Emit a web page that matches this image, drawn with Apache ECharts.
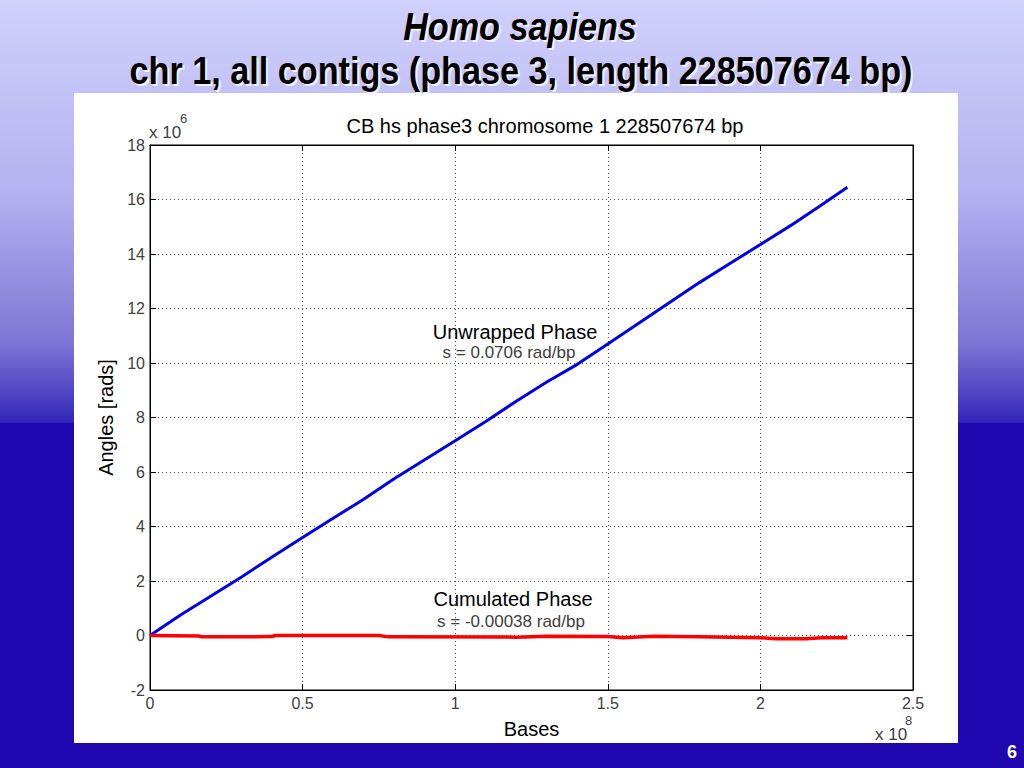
<!DOCTYPE html>
<html>
<head>
<meta charset="utf-8">
<script src="https://cdn.jsdelivr.net/npm/echarts@6/dist/echarts.min.js"></script>
<style>
html,body{margin:0;padding:0;width:1024px;height:768px;overflow:hidden;}
#chart{width:1024px;height:768px;}
</style>
</head>
<body>
<div id="chart"></div>
<script>
// Bases in units of 1e8, angles in units of 1e6 rad
var basesUnwrapped = [0, 0.1, 0.2, 0.3, 0.4, 0.5, 0.6, 0.7, 0.8, 0.9, 1.0, 1.1, 1.2, 1.3, 1.4, 1.5, 1.6, 1.7, 1.8, 1.9, 2.0, 2.1, 2.2, 2.285];
var unwrappedPhase = [0, 0.75, 1.45, 2.15, 2.88, 3.6, 4.3, 5.0, 5.75, 6.45, 7.15, 7.85, 8.6, 9.3, 9.95, 10.7, 11.45, 12.2, 12.95, 13.65, 14.35, 15.05, 15.8, 16.45];
var basesCumulated = [0, 0.16, 0.17, 0.4, 0.41, 0.75, 0.78, 1.2, 1.3, 1.5, 1.55, 1.65, 1.8, 2.0, 2.05, 2.15, 2.2, 2.285];
var cumulatedPhase = [0, -0.02, -0.05, -0.04, 0, 0, -0.05, -0.06, -0.03, -0.04, -0.08, -0.03, -0.05, -0.08, -0.12, -0.12, -0.08, -0.08];
var xTicks = [0, 0.5, 1, 1.5, 2, 2.5];
var yTicks = [-2, 0, 2, 4, 6, 8, 10, 12, 14, 16, 18];

function pairs(xs, ys) { return xs.map(function (x, i) { return [x, ys[i]]; }); }

var chart = echarts.init(document.getElementById('chart'), null, { renderer: 'svg' });
var FONT = 'Liberation Sans, Arial, sans-serif';
var tickLabel = { color: '#404040', fontSize: 16, fontFamily: FONT };
var grid = { left: 150, right: 111, top: 145, bottom: 78, show: true, borderColor: '#000', borderWidth: 1, backgroundColor: 'transparent' };

var title1 = 'Homo sapiens';
var title2 = 'chr 1, all contigs (phase 3, length 228507674 bp)';
function titleText(text, x, y, font, fill, z) {
  return { type: 'text', z: z, x: x, y: y, scaleX: 0.877, style: { text: text, font: font, fill: fill, textAlign: 'center', textVerticalAlign: 'middle' } };
}

var option = {
  backgroundColor: {
    type: 'linear', x: 0, y: 0, x2: 0, y2: 1,
    colorStops: [
      { offset: 0, color: '#d0d0fb' },
      { offset: 0.25, color: '#b4b2f0' },
      { offset: 0.45, color: '#7c74d4' },
      { offset: 0.55, color: '#3426b8' },
      { offset: 0.551, color: '#2008b0' },
      { offset: 1, color: '#2008b0' }
    ]
  },
  animation: false,
  grid: grid,
  graphic: [
    { type: 'rect', z: -10, shape: { x: 74, y: 93, width: 884, height: 650 }, style: { fill: '#ffffff' } },
    titleText(title1, 522, 29, 'italic bold 39px ' + FONT, '#f2f2ff', 9),
    titleText(title1, 520, 27, 'italic bold 39px ' + FONT, '#000', 10),
    titleText(title2, 523, 73, 'bold 39px ' + FONT, '#f2f2ff', 9),
    titleText(title2, 521, 71, 'bold 39px ' + FONT, '#000', 10),
    { type: 'text', z: 10, x: 545, y: 126, style: { text: 'CB hs phase3 chromosome 1 228507674 bp', font: '20px ' + FONT, fill: '#000', textAlign: 'center', textVerticalAlign: 'middle' } },
    { type: 'text', z: 10, x: 149, y: 132, style: { text: 'x 10', font: '17px ' + FONT, fill: '#404040', textAlign: 'left', textVerticalAlign: 'middle' } },
    { type: 'text', z: 10, x: 180, y: 118, style: { text: '6', font: '13px ' + FONT, fill: '#404040', textAlign: 'left', textVerticalAlign: 'middle' } },
    { type: 'text', z: 10, x: 875, y: 734, style: { text: 'x 10', font: '17px ' + FONT, fill: '#404040', textAlign: 'left', textVerticalAlign: 'middle' } },
    { type: 'text', z: 10, x: 905, y: 720, style: { text: '8', font: '13px ' + FONT, fill: '#404040', textAlign: 'left', textVerticalAlign: 'middle' } },
    { type: 'text', z: 10, x: 515, y: 332, style: { text: 'Unwrapped Phase', font: '20px ' + FONT, fill: '#000', textAlign: 'center', textVerticalAlign: 'middle' } },
    { type: 'text', z: 10, x: 509, y: 352, style: { text: 's = 0.0706 rad/bp', font: '17px ' + FONT, fill: '#404040', textAlign: 'center', textVerticalAlign: 'middle' } },
    { type: 'text', z: 10, x: 513, y: 599, style: { text: 'Cumulated Phase', font: '20px ' + FONT, fill: '#000', textAlign: 'center', textVerticalAlign: 'middle' } },
    { type: 'text', z: 10, x: 511, y: 621, style: { text: 's = -0.00038 rad/bp', font: '17px ' + FONT, fill: '#404040', textAlign: 'center', textVerticalAlign: 'middle' } },
    { type: 'text', z: 10, x: 1012, y: 752, style: { text: '6', font: 'bold 18px ' + FONT, fill: '#fff', textAlign: 'center', textVerticalAlign: 'middle' } }
  ],
  xAxis: [
    {
      type: 'value', min: xTicks[0], max: xTicks[xTicks.length - 1], interval: 0.5, position: 'bottom',
      name: 'Bases', nameLocation: 'middle', nameGap: 29,
      nameTextStyle: { color: '#000', fontSize: 20, fontFamily: FONT },
      axisLine: { show: true, onZero: false, lineStyle: { color: '#000', width: 1 } },
      axisTick: { show: true, inside: true, length: 6, lineStyle: { color: '#000' } },
      axisLabel: Object.assign({ margin: 5 }, tickLabel),
      splitLine: { show: true, lineStyle: { color: '#555', type: [1, 3], width: 1 } }
    },
    {
      type: 'value', min: xTicks[0], max: xTicks[xTicks.length - 1], interval: 0.5, position: 'top',
      axisLine: { show: true, onZero: false, lineStyle: { color: '#000' } },
      axisTick: { show: true, inside: true, length: 6, lineStyle: { color: '#000' } },
      axisLabel: { show: false }, splitLine: { show: false }
    }
  ],
  yAxis: [
    {
      type: 'value', min: yTicks[0], max: yTicks[yTicks.length - 1], interval: 2, position: 'left',
      name: 'Angles [rads]', nameLocation: 'middle', nameGap: 28,
      nameTextStyle: { color: '#000', fontSize: 20, fontFamily: FONT },
      axisLine: { show: true, onZero: false, lineStyle: { color: '#000', width: 1 } },
      axisTick: { show: true, inside: true, length: 6, lineStyle: { color: '#000' } },
      axisLabel: Object.assign({ margin: 5 }, tickLabel),
      splitLine: { show: true, lineStyle: { color: '#555', type: [1, 3], width: 1 } }
    },
    {
      type: 'value', min: yTicks[0], max: yTicks[yTicks.length - 1], interval: 2, position: 'right',
      axisLine: { show: true, onZero: false, lineStyle: { color: '#000' } },
      axisTick: { show: true, inside: true, length: 6, lineStyle: { color: '#000' } },
      axisLabel: { show: false }, splitLine: { show: false }
    }
  ],
  series: [
    {
      type: 'line', name: 'Unwrapped Phase', data: pairs(basesUnwrapped, unwrappedPhase),
      showSymbol: false, lineStyle: { color: '#0000e6', width: 3 }, z: 5
    },
    {
      type: 'line', name: 'Cumulated Phase', data: pairs(basesCumulated, cumulatedPhase),
      showSymbol: false, lineStyle: { color: '#ff0000', width: 3.5 }, z: 5
    }
  ]
};
chart.setOption(option);
</script>
</body>
</html>
